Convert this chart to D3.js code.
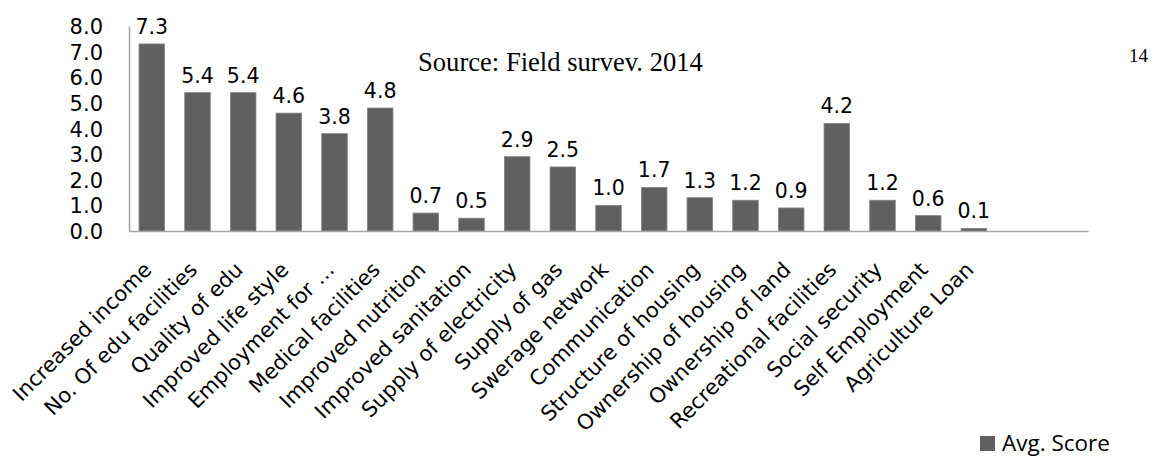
<!DOCTYPE html>
<html>
<head>
<meta charset="utf-8">
<script src="https://cdn.jsdelivr.net/npm/d3@7"></script>
<style>
  html, body { margin: 0; padding: 0; background: #fff; }
  svg { display: block; }
</style>
</head>
<body>
<svg id="chart" width="1154" height="458"></svg>
<script>
const categories = [
  "Increased income", "No. Of edu facilities", "Quality of edu", "Improved life style",
  "Employment for …", "Medical facilities", "Improved nutrition", "Improved sanitation",
  "Supply of electricity", "Supply of gas", "Swerage network", "Communication",
  "Structure of housing", "Ownership of housing", "Ownership of land",
  "Recreational facilities", "Social security", "Self Employment", "Agriculture Loan"
];
const avgScore = [7.3, 5.4, 5.4, 4.6, 3.8, 4.8, 0.7, 0.5, 2.9, 2.5, 1.0, 1.7, 1.3, 1.2, 0.9, 4.2, 1.2, 0.6, 0.1];
const emptySlots = ["__pad1", "__pad2"];
const yTicks = [0, 1, 2, 3, 4, 5, 6, 7, 8];
const seriesName = "Avg. Score";
const sourceText = "Source: Field survev. 2014";
const pageNumber = "14";

(function () {
const svg = d3.select("#chart");
const mLeft = 129, mRight = 1088, mTop = 26, mBottom = 231;
const barColor = "#606060";
const axisColor = "#a6a6a6";
const sans = "'DejaVu Sans', sans-serif";

const x = d3.scaleBand()
  .domain(categories.concat(emptySlots))
  .range([mLeft, mRight])
  .paddingInner(0.44)
  .paddingOuter(0.22);

const y = d3.scaleLinear().domain([0, 8]).range([mBottom, mTop]);

const rows = categories.map((c, i) => ({ c, v: avgScore[i] }));

// bars
svg.append("g").selectAll("rect")
  .data(rows)
  .join("rect")
  .attr("x", d => x(d.c))
  .attr("y", d => y(d.v))
  .attr("width", x.bandwidth())
  .attr("height", d => y(0) - y(d.v))
  .attr("fill", barColor)
  .attr("stroke", "#858585")
  .attr("stroke-width", 0.8);

// value labels
svg.append("g").selectAll("text")
  .data(rows)
  .join("text")
  .attr("x", d => x(d.c) + x.bandwidth() / 2)
  .attr("y", d => y(d.v) - 10)
  .attr("text-anchor", "middle")
  .attr("font-family", sans)
  .attr("font-size", 20.5)
  .attr("fill", "#000")
  .text(d => d3.format(".1f")(d.v));

// y axis
const yAxis = svg.append("g")
  .attr("transform", `translate(${mLeft},0)`)
  .call(d3.axisLeft(y).tickValues(yTicks).tickFormat(d3.format(".1f")).tickSize(0).tickPadding(26));
yAxis.select(".domain").attr("stroke", axisColor).attr("stroke-width", 1.5);
yAxis.selectAll("text").attr("font-family", sans).attr("font-size", 21).attr("fill", "#000")
  .attr("dy", "0.36em");

// x axis
const xAxis = svg.append("g")
  .attr("transform", `translate(0,${mBottom})`)
  .call(d3.axisBottom(x).tickSize(0).tickSizeOuter(0).tickFormat(d => emptySlots.includes(d) ? "" : d));
xAxis.select(".domain").attr("stroke", axisColor).attr("stroke-width", 1.5);
xAxis.selectAll(".tick text")
  .attr("font-family", sans)
  .attr("font-size", 21)
  .attr("fill", "#000")
  .attr("text-anchor", "end")
  .attr("dy", 0)
  .attr("y", 0)
  .attr("transform", "translate(1,40) rotate(-45)");

// source text
svg.append("text")
  .attr("x", 418).attr("y", 71)
  .attr("font-family", "'Liberation Serif', 'Times New Roman', serif")
  .attr("font-size", 26.6)
  .attr("fill", "#000")
  .text(sourceText);

// page number fragment
svg.append("text")
  .attr("x", 1148).attr("y", 62)
  .attr("text-anchor", "end")
  .attr("font-family", "'Liberation Serif', 'Times New Roman', serif")
  .attr("font-size", 19)
  .attr("fill", "#000")
  .text(pageNumber);

// legend
const lg = svg.append("g").attr("transform", "translate(980,436)");
lg.append("rect").attr("width", 15).attr("height", 15).attr("fill", barColor);
lg.append("text")
  .attr("x", 22).attr("y", 15)
  .attr("font-family", "'Open Sans', sans-serif")
  .attr("font-size", 22.5)
  .attr("fill", "#000")
  .text(seriesName);
})();
</script>
</body>
</html>
